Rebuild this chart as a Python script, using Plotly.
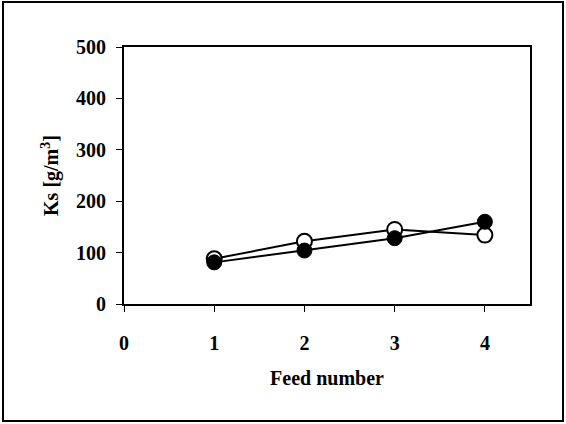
import plotly.graph_objects as go

feed = [1, 2, 3, 4]
ks_open = [88, 122, 145, 134]
ks_filled = [81, 104, 128, 160]

x_ticks = [0, 1, 2, 3, 4]
y_ticks = [0, 100, 200, 300, 400, 500]

font_family = "Liberation Serif, Times New Roman, serif"

fig = go.Figure()
fig.add_trace(go.Scatter(
    x=feed, y=ks_open, mode="lines+markers",
    line=dict(color="black", width=2),
    marker=dict(symbol="circle", size=15, color="white",
                line=dict(color="black", width=2)),
    showlegend=False,
))
fig.add_trace(go.Scatter(
    x=feed, y=ks_filled, mode="lines+markers",
    line=dict(color="black", width=2),
    marker=dict(symbol="circle", size=15, color="black",
                line=dict(color="black", width=1)),
    showlegend=False,
))

# plot area spans 124..530 px horizontally and 47..304 px vertically
L, R, T, B = 124, 530, 47, 304
W, H = 566, 424
pw, ph = R - L, B - T

def px(x):
    return (x - L) / pw

def py(y):
    return (B - y) / ph

fig.add_shape(type="rect", xref="paper", yref="paper",
              x0=px(3), x1=px(563), y0=py(421), y1=py(2),
              line=dict(color="black", width=2), layer="below")

fig.update_layout(
    width=W, height=H,
    margin=dict(l=L, r=W - R, t=T, b=H - B),
    paper_bgcolor="white", plot_bgcolor="white",
    font=dict(family=font_family, size=20, color="black"),
)
fig.update_xaxes(
    range=[0, 4.5], tickvals=x_ticks, ticktext=[str(v) for v in x_ticks],
    showgrid=False, zeroline=False,
    showline=True, linecolor="black", linewidth=2, mirror=True,
    ticks="outside", ticklen=6, tickwidth=1, tickcolor="black",
    ticklabelstandoff=14,
    tickfont=dict(family=font_family, size=20, weight="bold"),
    title=dict(text="<b>Feed number</b>", standoff=18,
               font=dict(family=font_family, size=20)),
)
fig.update_yaxes(
    range=[0, 500], tickvals=y_ticks, ticktext=[str(v) for v in y_ticks],
    showgrid=False, zeroline=False,
    showline=True, linecolor="black", linewidth=2, mirror=True,
    ticks="outside", ticklen=6, tickwidth=1, tickcolor="black",
    ticklabelstandoff=6,
    tickfont=dict(family=font_family, size=20, weight="bold"),
    title=dict(text="<b>Ks [g/m<sup>3</sup>]</b>", standoff=12,
               font=dict(family=font_family, size=20)),
)

fig.write_html("out.html")
